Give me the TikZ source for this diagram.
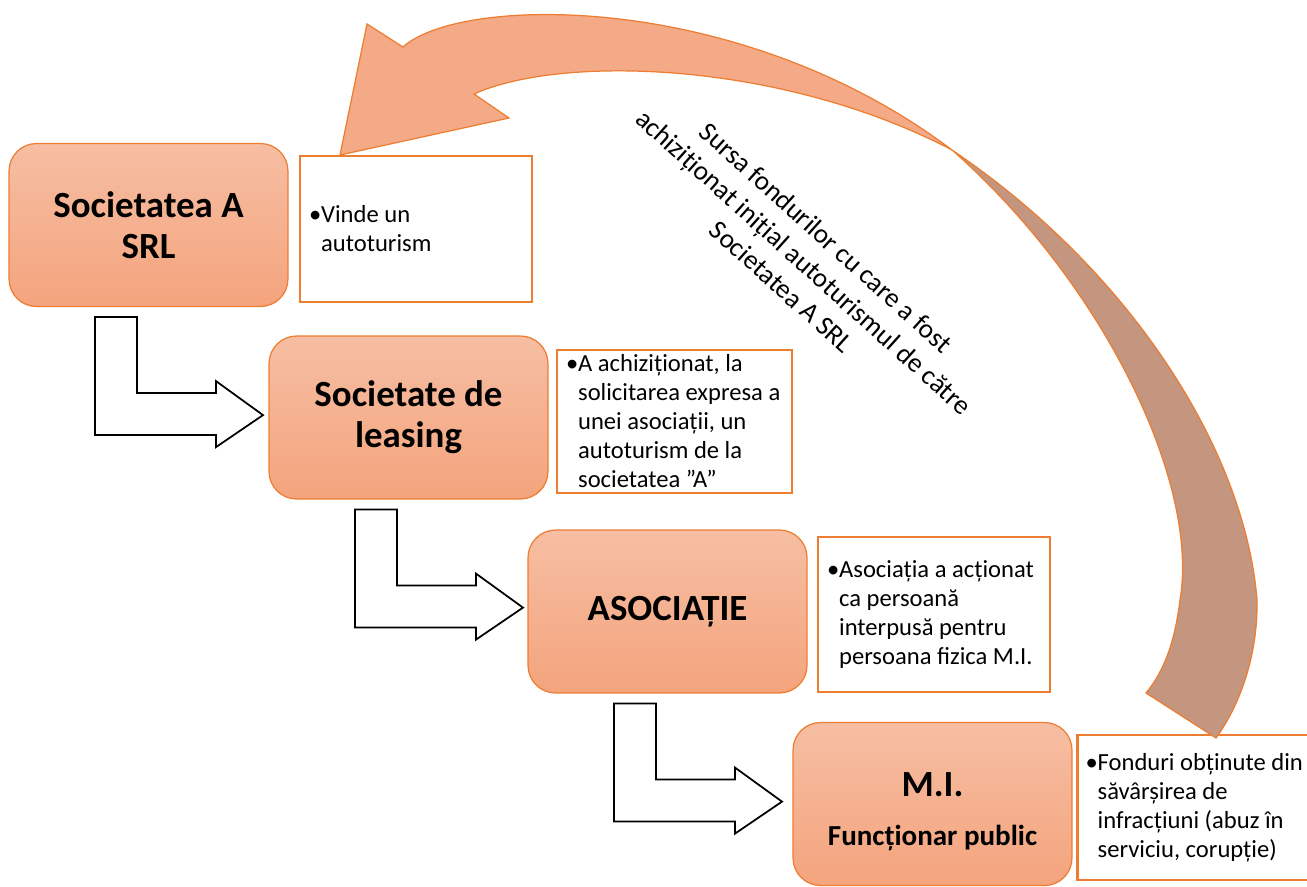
\documentclass[tikz,border=0pt]{standalone}
\usepackage{fontspec}
\setmainfont{Carlito}
\usetikzlibrary{positioning}

\definecolor{boxtop}{HTML}{F6BEA3}
\definecolor{boxbot}{HTML}{F4A47D}
\definecolor{edge}{HTML}{ED7D31}
\definecolor{ribbon}{HTML}{F4A987}
\definecolor{ribbonback}{HTML}{C4957F}

\tikzset{
  stage/.style={draw=edge, line width=0.7pt, rounded corners=0.55cm,
    top color=boxtop, bottom color=boxbot, minimum width=5.58cm,
    minimum height=3.26cm, inner sep=0pt, align=center,
    font=\fontsize{21}{23.4}\selectfont\bfseries},
  info/.style={draw=edge, line width=1.4pt, fill=white, inner sep=0pt},
  infotext/.style={anchor=west, inner sep=0pt, align=left,
    font=\fontsize{14}{16.5}\selectfont},
  bentarrow/.style={draw=black, line width=1pt, fill=white, line join=miter}
}
\newcommand{\bl}{\makebox[0.24cm][l]{\textbullet}}
\newcommand{\ind}{\hspace*{0.24cm}}

\begin{document}
\begin{tikzpicture}[x=0.02cm, y=-0.02cm]
    \useasboundingbox (0,0) rectangle (1307,886);

    % stages
    \node [stage] (soca) at (148.5,225) {Societatea A\\SRL};
    \node [stage] (leasing) at (408.5,417.5) {Societate de\\leasing};
    \node [stage] (asoc) at (667.5,611.5) {ASOCIAȚIE};
    \node [stage] (mi) at (932.5,804) {\rule{0pt}{22.5pt}M.I.\\[4.3pt]{\fontsize{16.5}{20}\selectfont Funcționar public}};

    % info boxes
    \node [info, minimum width=4.64cm, minimum height=2.92cm] (socainfo) at (416,229) {};
    \node [info, minimum width=4.70cm, minimum height=2.86cm] (leasinginfo) at (674.5,421.5) {};
    \node [info, minimum width=4.64cm, minimum height=3.10cm] (asocinfo) at (934,614.5) {};
    \node [info, minimum width=4.90cm, minimum height=2.90cm] (miinfo) at (1200,807.5) {};

    \node [infotext] at ([xshift=0.2cm]socainfo.west) {\bl Vinde un\\\ind autoturism};
    \node [infotext] at ([xshift=0.2cm]leasinginfo.west) {\bl A achiziționat, la\\\ind solicitarea expresa a\\\ind unei asociații, un\\\ind autoturism de la\\\ind societatea ”A”};
    \node [infotext] at ([xshift=0.2cm]asocinfo.west) {\bl Asociația a acționat\\\ind ca persoană\\\ind interpusă pentru\\\ind persoana fizica M.I.};
    \node [infotext] at ([xshift=0.18cm]miinfo.west) {\bl Fonduri obținute din\\\ind săvârșirea de\\\ind infracțiuni (abuz în\\\ind serviciu, corupție)};

    % bent arrows between stages
    \foreach \a in {soca, leasing, asoc}
        \draw [bentarrow] ([shift={(-53.5,10)}]\a.south) -- ++(42,0) -- ++(0,76)
            -- ++(79,0) -- ++(0,-12) -- ++(47,34) -- ++(-47,32) -- ++(0,-12)
            -- ++(-121,0) -- cycle;

    % curved arrow back to Societatea A
    \draw [draw=edge, line width=0.7pt, fill=ribbonback] (952,150)
        .. controls (1130,270) and (1245,450) .. (1257,600)
        .. controls (1258,655) and (1240,705) .. (1216,738)
        -- (1146,693)
        .. controls (1165,670) and (1175,640) .. (1180,600)
        .. controls (1200,480) and (1100,280) .. (952,150) -- cycle;
    \draw [draw=edge, line width=0.7pt, fill=ribbon] (340,155) -- (367,24) -- (403,47)
        .. controls (460,-5) and (740,-10) .. (952,150)
        .. controls (780,60) and (560,55) .. (474,94)
        -- (509,118) -- cycle;

    \node [rotate=-42, align=center, font=\fontsize{15.5}{18.9}\selectfont] (source) at (804,262)
        {Sursa fondurilor cu care a fost\\achiziționat inițial autoturismul de către\\Societatea A SRL};
\end{tikzpicture}
\end{document}
